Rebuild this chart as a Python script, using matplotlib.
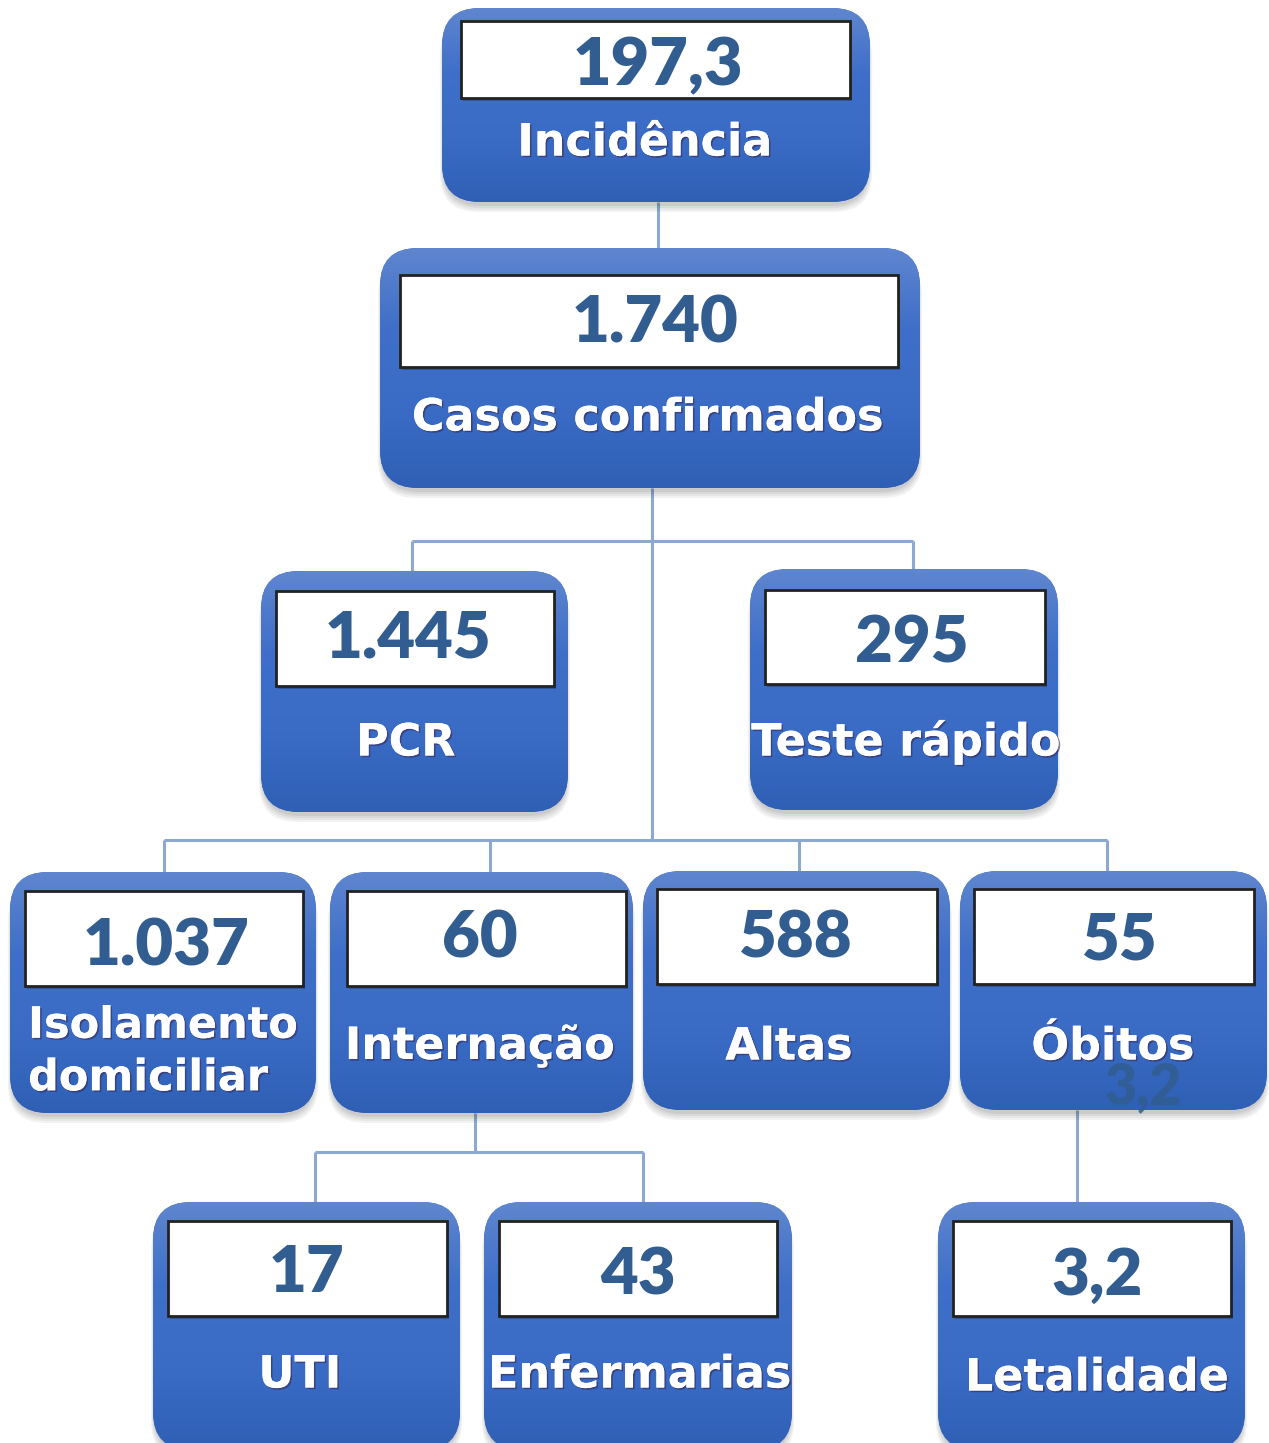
import numpy as np
import matplotlib
matplotlib.use("Agg")
import matplotlib.pyplot as plt
from matplotlib.patches import FancyBboxPatch, Rectangle
from matplotlib.colors import LinearSegmentedColormap
import matplotlib.patheffects as pe

# ---------------- data ----------------
values = ["197,3", "1.740", "1.445", "295", "1.037", "60", "588", "55", "17", "43", "3,2"]
labels = ["Incidência", "Casos confirmados", "PCR", "Teste rápido",
          "Isolamento\ndomiciliar", "Internação", "Altas", "Óbitos",
          "UTI", "Enfermarias", "Letalidade"]
stray_text = "3,2"

# ---------------- layout (pixels) ----------------
W, H = 1269, 1443
outer = [(442, 8, 870, 202), (380, 248, 920, 488), (261, 571, 568, 812), (750, 569, 1058, 810),
         (10, 872, 316, 1113), (330, 872, 633, 1113), (643, 871, 950, 1110), (960, 871, 1267, 1110),
         (153, 1202, 460, 1450), (484, 1202, 792, 1450), (938, 1202, 1245, 1450)]
inner = [(461, 21, 850, 98), (400, 275, 898, 367), (276, 591, 554, 686), (765, 590, 1045, 684),
         (25, 891, 303, 986), (347, 891, 626, 986), (657, 889, 937, 984), (974, 889, 1254, 984),
         (168, 1221, 447, 1316), (499, 1221, 777, 1316), (953, 1221, 1231, 1316)]
val_pos = [(658, 66), (655, 324), (408, 639), (912, 644), (166, 947), (480, 939), (796, 939),
           (1120, 941), (307, 1274), (638, 1276), (1097, 1276)]
lab_pos = [(645, 143), (648, 418), (406, 743), (906, 742), (28, 1052), (480, 1046), (789, 1047),
           (1113, 1047), (300, 1375), (640, 1375), (1097, 1378)]
val_size = [48, 47, 47, 47, 47, 47, 47, 47, 47, 47, 47]
lab_size = [32, 32, 32, 32, 31, 32, 32, 32, 32, 32, 32]

connectors = [(658, 202, 658, 248),
              (652, 488, 652, 840), (412, 541, 913, 541), (412, 541, 412, 571), (913, 541, 913, 571),
              (164, 840, 1107, 840), (164, 840, 164, 872), (490, 840, 490, 872),
              (799, 840, 799, 872), (1107, 840, 1107, 872),
              (475, 1113, 475, 1152), (315, 1152, 643, 1152), (315, 1152, 315, 1202),
              (643, 1152, 643, 1202), (1077, 1110, 1077, 1202)]

# ---------------- drawing ----------------
plt.rcParams['font.family'] = ['DejaVu Sans']
fig = plt.figure(figsize=(W / 100, H / 100), dpi=100)
ax = fig.add_axes([0, 0, 1, 1])
ax.set_xlim(0, W)
ax.set_ylim(H, 0)
ax.axis("off")

line_col = "#8ea9cf"
for (x0, y0, x1, y1) in connectors:
    ax.plot([x0, x1], [y0, y1], color=line_col, lw=2.2, solid_capstyle="butt", zorder=1)

cmap = LinearSegmentedColormap.from_list("box", ["#5f86cf", "#3f6fc8", "#3a6cc6", "#2f60b5"])
grad = np.linspace(0, 1, 256).reshape(-1, 1)
val_col = "#325d91"
rad = 38

for i, (x0, y0, x1, y1) in enumerate(outer):
    w, h = x1 - x0, y1 - y0
    for k, a in enumerate([0.06, 0.06, 0.07, 0.08]):
        off = 10 - 2 * k
        sh = FancyBboxPatch((x0 - 2 + k, y0 + off), w + 4 - 2 * k, h,
                            boxstyle=f"round,pad=0,rounding_size={rad}",
                            fc="#303030", ec="none", alpha=a, zorder=2)
        ax.add_patch(sh)
    box = FancyBboxPatch((x0, y0), w, h, boxstyle=f"round,pad=0,rounding_size={rad}",
                         fc="#3f6fc8", ec="none", zorder=3)
    ax.add_patch(box)
    im = ax.imshow(grad, extent=(x0, x1, y1, y0), cmap=cmap, aspect="auto",
                   origin="upper", zorder=3.5, interpolation="bilinear")
    im.set_clip_path(box)

    ix0, iy0, ix1, iy1 = inner[i]
    ax.add_patch(Rectangle((ix0 + 2, iy0 + 3), ix1 - ix0, iy1 - iy0, fc="#1a2a4a",
                           ec="none", alpha=0.35, zorder=4))
    ax.add_patch(Rectangle((ix0, iy0), ix1 - ix0, iy1 - iy0, fc="white",
                           ec="#222222", lw=2, zorder=5))
    vx, vy = val_pos[i]
    ax.text(vx, vy, values[i], ha="center", va="center", fontsize=val_size[i],
            family="Lato", fontweight="heavy", color=val_col, zorder=6)

    lx, ly = lab_pos[i]
    ha = "left" if "\n" in labels[i] else "center"
    ax.text(lx, ly, labels[i], ha=ha, va="center", fontsize=lab_size[i], fontweight="bold",
            color="white", linespacing=1.32, zorder=7,
            path_effects=[pe.withSimplePatchShadow(offset=(1.2, -1.2), shadow_rgbFace="#3a2a5a", alpha=0.6),
                          pe.Normal()])

ax.text(1143, 1087, stray_text, ha="center", va="center", fontsize=40,
        family="Lato", fontweight="heavy", color=val_col, alpha=0.85, zorder=6)

ax.set_xlim(0, W)
ax.set_ylim(H, 0)
fig.savefig("out.png", dpi=100)
